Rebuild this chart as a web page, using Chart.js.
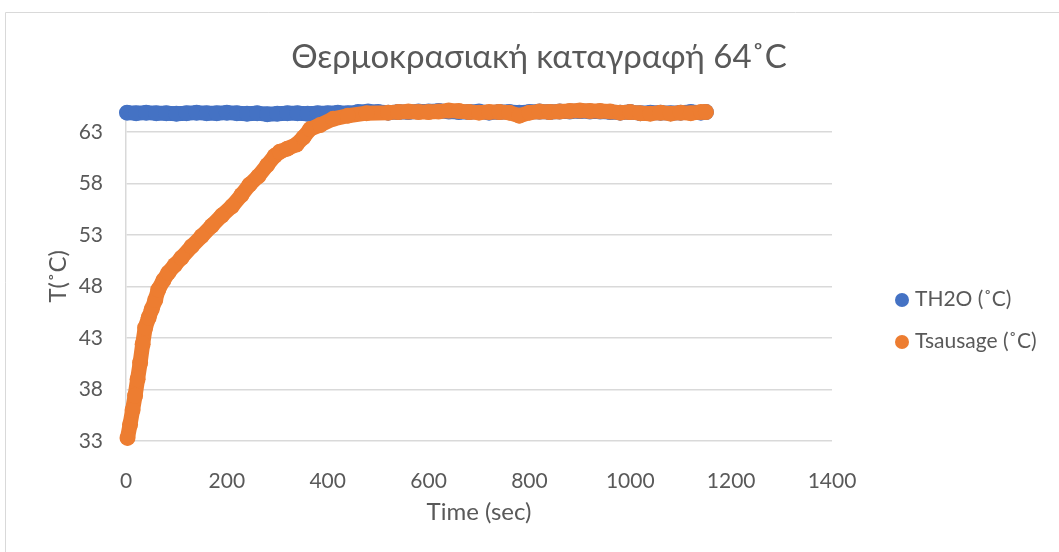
<!DOCTYPE html>
<html>
<head>
<meta charset="utf-8">
<script src="https://cdn.jsdelivr.net/npm/chart.js@4.4.1/dist/chart.umd.min.js"></script>
<style>
  html, body { margin: 0; padding: 0; background: #fff; }
</style>
</head>
<body>
<canvas id="grafico" width="1059" height="552"></canvas>
<script>
const titulo = 'Θερμοκρασιακή καταγραφή 64˚C';
const nome_series = ['TH2O (˚C)', 'Tsausage (˚C)'];
const cores = ['#4472C4', '#ED7D31'];
const ticks_x = [0, 200, 400, 600, 800, 1000, 1200, 1400];
const ticks_y = [33, 38, 43, 48, 53, 58, 63];

// TH2O
const tempo_agua = [2, 20, 40, 60, 80, 100, 120, 140, 160, 180, 200, 220, 240, 260, 280, 300, 320, 340, 360, 380,
    400, 420, 440, 460, 480, 500, 520, 540, 560, 580, 600, 620, 640, 660, 680, 700, 720, 740, 760, 780,
    800, 820, 840, 860, 880, 900, 920, 940, 960, 980, 1000, 1020, 1040, 1060, 1080, 1100, 1120, 1140, 1150];
const agua = [64.9, 64.85, 64.9, 64.85, 64.85, 64.8, 64.85, 64.9, 64.85, 64.85,
    64.9, 64.85, 64.8, 64.85, 64.75, 64.8, 64.85, 64.85, 64.8, 64.85,
    64.85, 64.9, 64.85, 64.95, 65.0, 64.95, 64.9, 64.95, 64.95, 65.0,
    65.0, 65.05, 65.0, 64.95, 64.95, 65.0, 64.9, 64.95, 64.95, 64.9,
    64.95, 65.0, 64.95, 65.0, 65.0, 65.05, 65.0, 65.0, 64.95, 64.9,
    64.95, 64.85, 64.9, 64.9, 64.85, 64.9, 64.95, 64.9, 64.95];

// Tsausage
const tempo_salsicha = [3, 8, 13, 18, 23, 28, 33, 38, 45, 51, 58, 64, 74, 84, 97, 110, 130, 150, 170, 190,
    210, 229, 245, 262, 280, 295, 305, 320, 338, 352, 365, 385, 411, 440, 477, 520,
    540, 560, 580, 600, 620, 640, 660, 680, 700, 720, 740, 760, 780, 800, 820, 840, 860, 880, 900, 920,
    940, 960, 980, 1000, 1020, 1040, 1060, 1080, 1100, 1120, 1140, 1150];
const salsicha = [33.3, 34.6, 36.0, 37.4, 39.0, 40.6, 42.4, 44.0, 45.0, 45.8,
    46.7, 47.7, 48.6, 49.35, 50.1, 50.8, 51.9, 52.9, 53.9, 54.9,
    55.8, 56.9, 57.9, 58.7, 59.8, 60.7, 61.1, 61.4, 61.8, 62.5,
    63.3, 63.7, 64.3, 64.6, 64.85, 64.9,
    64.95, 65.0, 64.95, 64.95, 65.0, 65.1, 65.05, 64.95, 64.9, 64.95,
    64.95, 64.9, 64.6, 64.9, 65.0, 64.95, 65.0, 65.05, 65.1, 65.05,
    65.05, 65.0, 64.9, 64.95, 64.85, 64.8, 64.9, 64.8, 64.9, 64.85,
    64.95, 64.95];

const pontos = (t, v) => t.map((x, i) => ({x: x, y: v[i]}));
const cinza = '#595959';

Chart.defaults.font.family = 'Lato, "Open Sans", sans-serif';
Chart.defaults.color = cinza;

// moldura do grafico (estilo Excel)
const moldura = {
    id: 'moldura',
    beforeDraw(chart) {
        const c = chart.ctx;
        c.save();
        c.fillStyle = '#fff';
        c.fillRect(0, 0, chart.width, chart.height);
        c.strokeStyle = '#d9d9d9';
        c.lineWidth = 1;
        c.beginPath();
        c.moveTo(5.5, chart.height);
        c.lineTo(5.5, 12.5);
        c.lineTo(chart.width, 12.5);
        c.stroke();
        c.restore();
    }
};

// legenda a direita
const legenda = {
    id: 'legenda',
    afterDraw(chart) {
        const c = chart.ctx;
        c.save();
        c.font = '21px Lato, "Open Sans", sans-serif';
        c.textBaseline = 'middle';
        chart.data.datasets.forEach((ds, i) => {
            const y = 299 + i * 42;
            c.fillStyle = ds.backgroundColor;
            c.beginPath();
            c.arc(902, y + 1, 7, 0, Math.PI * 2);
            c.fill();
            c.fillStyle = cinza;
            c.fillText(ds.label, 915, y);
        });
        c.restore();
    }
};

const serie = (i, dados, ordem) => ({
    label: nome_series[i],
    data: dados,
    xAxisID: 'x',
    yAxisID: 'y',
    showLine: true,
    backgroundColor: cores[i],
    borderColor: cores[i],
    borderWidth: 15,
    borderJoinStyle: 'round',
    borderCapStyle: 'round',
    pointRadius: 8,
    pointHoverRadius: 8,
    pointBorderWidth: 0,
    clip: false,
    order: ordem
});

const grafico = new Chart(document.getElementById('grafico'), {
    type: 'scatter',
    data: {
        datasets: [
            serie(0, pontos(tempo_agua, agua), 1),
            serie(1, pontos(tempo_salsicha, salsicha), 0)
        ]
    },
    options: {
        responsive: false,
        animation: false,
        layout: { padding: { left: 19, right: 0, top: 0, bottom: 0 } },
        plugins: {
            legend: { display: false },
            tooltip: { enabled: false },
            title: {
                display: true,
                text: titulo,
                color: cinza,
                font: { size: 33, weight: 'normal' },
                padding: { top: 38, bottom: 34 }
            }
        },
        scales: {
            x: {
                type: 'linear',
                position: 'bottom',
                min: 0,
                max: 1400,
                afterBuildTicks: ax => { ax.ticks = ticks_x.map(v => ({value: v})); },
                afterFit: ax => { ax.height = 111; },
                grid: { display: false },
                border: { display: false },
                ticks: { padding: 20, font: { size: 21 }, callback: v => String(v) },
                title: { display: true, text: 'Time (sec)', font: { size: 24 }, padding: { top: 0, bottom: 25 } }
            },
            y: {
                type: 'linear',
                position: 'left',
                min: 33,
                max: 65,
                afterBuildTicks: ax => { ax.ticks = ticks_y.map(v => ({value: v})); },
                afterFit: ax => { ax.width = 107; },
                grid: { color: '#d9d9d9', lineWidth: 1.5, drawTicks: false },
                border: { color: '#d9d9d9', width: 1.5 },
                ticks: { padding: 23, font: { size: 21 } },
                title: { display: true, text: 'T(˚C)', font: { size: 24 }, padding: { top: 25, bottom: 0 } }
            },
            espaco: {
                type: 'linear',
                position: 'right',
                display: true,
                afterFit: ax => { ax.width = 227; },
                grid: { display: false },
                border: { display: false },
                ticks: { display: false }
            }
        }
    },
    plugins: [moldura, legenda]
});
</script>
</body>
</html>
